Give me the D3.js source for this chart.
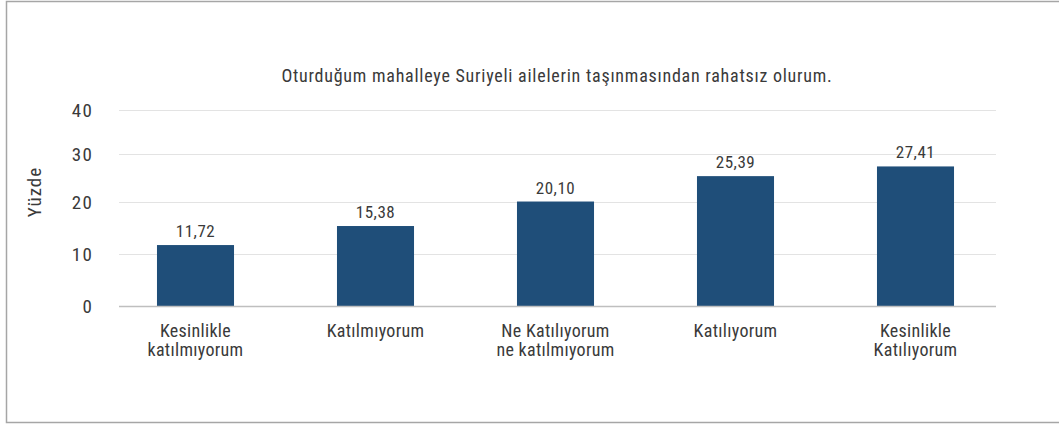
<!DOCTYPE html>
<html>
<head>
<meta charset="utf-8">
<script src="https://cdn.jsdelivr.net/npm/d3@7"></script>
<style>
  body { margin: 0; background: #fff; }
  svg text { font-family: "Liberation Sans Narrow", "Arial Narrow", "Roboto Condensed", sans-serif; fill: #3a3a3a; }
</style>
</head>
<body>
<div id="chart"></div>
<script>
var categories = [
    ['Kesinlikle', 'katılmıyorum'],
    ['Katılmıyorum'],
    ['Ne Katılıyorum', 'ne katılmıyorum'],
    ['Katılıyorum'],
    ['Kesinlikle', 'Katılıyorum']
];
var values = [11.72, 15.38, 20.10, 25.39, 27.41];
var yTicks = [0, 10, 20, 30, 40];
var title = 'Oturduğum mahalleye Suriyeli ailelerin taşınmasından rahatsız olurum.';
var yLabel = 'Yüzde';

var W = 1059, H = 425,
    BAR_COLOR = '#1f4e79';

var svg = d3.select('#chart').append('svg')
    .attr('width', W)
    .attr('height', H);

// outer frame
svg.append('rect')
    .attr('x', 6.5)
    .attr('y', 1.5)
    .attr('width', W + 10)
    .attr('height', 421)
    .attr('fill', 'none')
    .attr('stroke', '#a6a6a6')
    .attr('stroke-width', 1.5);

var keys = categories.map((c, i) => 'c' + i);

var x = d3.scaleBand()
    .domain(keys)
    .range([105.5, 1005.5])
    .paddingInner(0.572)
    .paddingOuter(0.286);

// the source axis is not evenly spaced, follow its gridlines
var y = d3.scaleLinear()
    .domain(yTicks)
    .range([306, 254, 202, 154, 110]);

var gridLeft = 119, gridRight = 996;

// gridlines
svg.append('g')
    .selectAll('line')
    .data(yTicks.filter(t => t > 0))
    .join('line')
    .attr('x1', gridLeft)
    .attr('x2', gridRight)
    .attr('y1', d => y(d) + 0.5)
    .attr('y2', d => y(d) + 0.5)
    .attr('stroke', '#e3e3e3')
    .attr('stroke-width', 1);

// y tick labels
svg.append('g')
    .selectAll('text')
    .data(yTicks)
    .join('text')
    .attr('x', 93)
    .attr('y', d => y(d))
    .attr('dy', '0.36em')
    .attr('text-anchor', 'end')
    .style('font-size', '19px')
    .style('letter-spacing', '1.2px')
    .text(d => d);

// bars
svg.append('g')
    .selectAll('rect')
    .data(values)
    .join('rect')
    .attr('x', (d, i) => x(keys[i]))
    .attr('y', d => y(d))
    .attr('width', x.bandwidth())
    .attr('height', d => y(0) - y(d))
    .attr('fill', BAR_COLOR);

// baseline
svg.append('line')
    .attr('x1', gridLeft)
    .attr('x2', gridRight)
    .attr('y1', y(0) + 0.5)
    .attr('y2', y(0) + 0.5)
    .attr('stroke', '#bfbfbf')
    .attr('stroke-width', 1.5);

// value labels
svg.append('g')
    .selectAll('text')
    .data(values)
    .join('text')
    .attr('x', (d, i) => x(keys[i]) + x.bandwidth() / 2)
    .attr('y', d => y(d) - 8)
    .attr('text-anchor', 'middle')
    .style('font-size', '17px')
    .style('letter-spacing', '0.5px')
    .text(d => d.toFixed(2).replace('.', ','));

// category labels
var cat = svg.append('g')
    .selectAll('text')
    .data(categories)
    .join('text')
    .attr('x', (d, i) => x(keys[i]) + x.bandwidth() / 2)
    .attr('y', 337)
    .attr('text-anchor', 'middle')
    .style('font-size', '18px')
    .style('letter-spacing', '0.3px');

cat.selectAll('tspan')
    .data(d => d)
    .join('tspan')
    .attr('x', function() { return d3.select(this.parentNode).attr('x'); })
    .attr('dy', (d, i) => i === 0 ? 0 : 19)
    .text(d => d);

// title
svg.append('text')
    .attr('x', 557)
    .attr('y', 82)
    .attr('text-anchor', 'middle')
    .style('font-size', '18px')
    .style('letter-spacing', '0.75px')
    .text(title);

// y axis title
svg.append('text')
    .attr('transform', 'translate(41,192) rotate(-90)')
    .attr('text-anchor', 'middle')
    .style('font-size', '19px')
    .style('letter-spacing', '1px')
    .text(yLabel);
</script>
</body>
</html>
